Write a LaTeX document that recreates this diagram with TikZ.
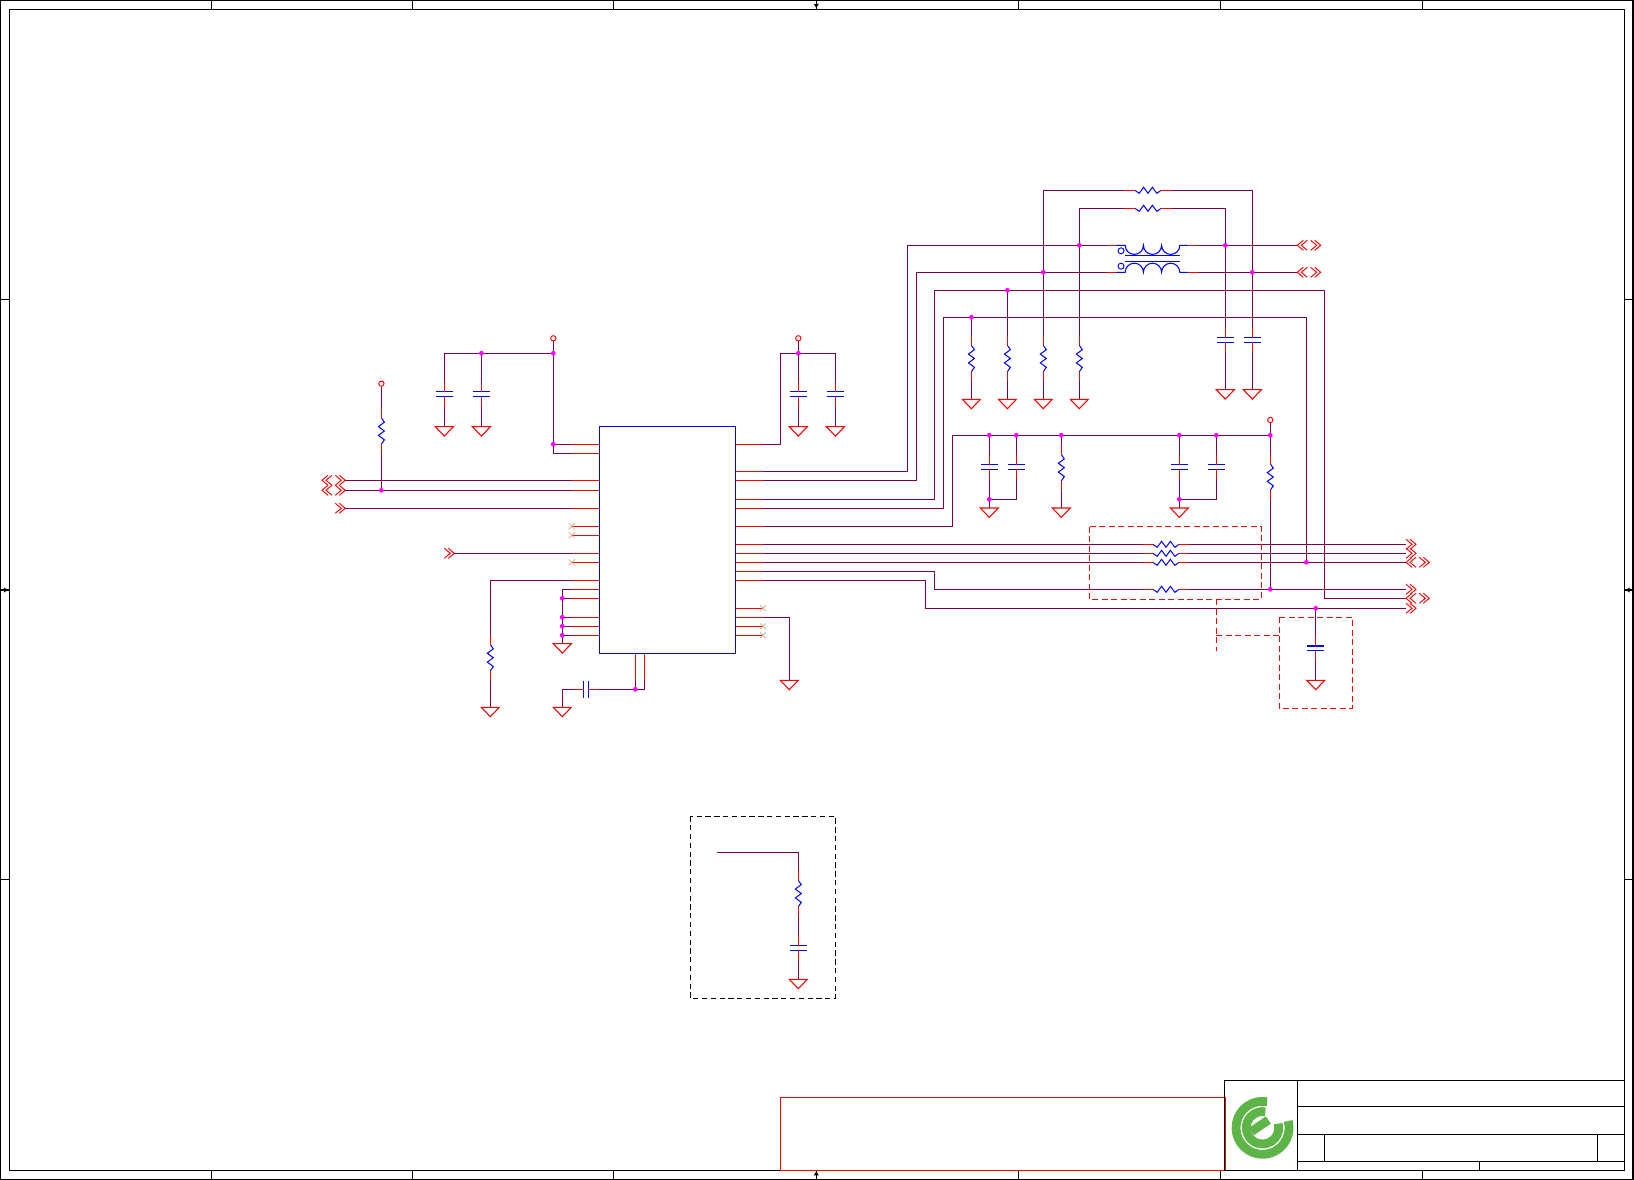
\documentclass[tikz,border=0pt]{standalone}
\definecolor{wirecol}{HTML}{7F0045}
\definecolor{nccol}{HTML}{D0B498}
\definecolor{logocol}{HTML}{5CB546}
\definecolor{dotcol}{HTML}{FF00FF}
\tikzset{
  every picture/.style={line width=0.75pt},
  wire/.style={draw=wirecol,line width=0.95pt},
  pinred/.style={draw=red,line width=0.9pt},
  partb/.style={draw=blue,line width=0.8pt},
  sheet/.style={draw=black,line width=0.9pt},
  dashred/.style={draw=red,line width=0.75pt,dash pattern=on 4.5pt off 2.6pt},
  dashblk/.style={draw=black,line width=0.75pt,dash pattern=on 4pt off 2.6pt},
  logoarc/.style={draw=logocol,line width=6.6pt},
  junct/.style={circle,fill=dotcol,inner sep=0pt,minimum size=3.6pt},
  port/.style={circle,draw=red,line width=0.7pt,inner sep=0pt,minimum size=4pt},
  % inside a pic y runs upwards again
  capac/.pic={
    \draw[partb] (-8.6,2.3) -- (8.6,2.3) (-8.6,-2.3) -- (8.6,-2.3);
    \draw[pinred] (0,12.2) -- (0,2.3) (0,-2.3) -- (0,-12.2);
    \coordinate (-a) at (0,12.2);
    \coordinate (-b) at (0,-12.2);
  },
  resis/.pic={
    \draw[partb,line width=0.75pt] (0,13.2) -- (3,8.8) -- (-3,4.4) -- (3,0) -- (-3,-4.4) -- (3,-8.8) -- (0,-13.2);
    \draw[pinred] (0,22.6) -- (0,13.2) (0,-13.2) -- (0,-22.6);
    \coordinate (-a) at (0,22.6);
    \coordinate (-b) at (0,-22.6);
  },
  earth/.pic={
    \draw[pinred,line width=0.8pt] (-9,0) -- (9,0) -- (0,-9.4) -- cycle;
    \coordinate (-t) at (0,0);
  },
  offr/.pic={
    \draw[pinred,line width=0.7pt] (0,-5) -- (6,0) -- (0,5) (4,-5) -- (10,0) -- (4,5);
    \coordinate (-w) at (0,0);
    \coordinate (-e) at (10,0);
  },
  offl/.pic={
    \draw[pinred,line width=0.7pt] (6,-5) -- (0,0) -- (6,5) (10,-5) -- (4,0) -- (10,5);
    \coordinate (-w) at (0,0);
    \coordinate (-e) at (10,0);
  },
  ncx/.pic={
    \draw[draw=nccol,line width=0.6pt] (-3,-3) -- (3,3) (-3,3) -- (3,-3);
  },
  xform/.pic={
    \draw[partb] (-36.2,13.5) -- (-27,13.5) arc[start angle=180,end angle=360,radius=9.1] arc[start angle=180,end angle=360,radius=9.1] arc[start angle=180,end angle=360,radius=9.1] -- (36.2,13.5);
    \draw[partb] (-36.2,-13.5) -- (-27,-13.5) arc[start angle=180,end angle=0,radius=9.1] arc[start angle=180,end angle=0,radius=9.1] arc[start angle=180,end angle=0,radius=9.1] -- (36.2,-13.5);
    \draw[partb] (-27,2.9) -- (27.6,2.9) (-27,-2.4) -- (27.6,-2.4);
    \draw[partb,line width=0.7pt] (-31.2,8) circle (3) (-31.2,-7.4) circle (3);
    \draw[pinred] (-45.5,13.5) -- (-36.2,13.5) (36.2,13.5) -- (45.5,13.5) (-45.5,-13.5) -- (-36.2,-13.5) (36.2,-13.5) -- (45.5,-13.5);
    \coordinate (-tl) at (-45.5,13.5);
    \coordinate (-tr) at (45.5,13.5);
    \coordinate (-bl) at (-45.5,-13.5);
    \coordinate (-br) at (45.5,-13.5);
  }
}

\begin{document}
\begin{tikzpicture}[x=0.75pt,y=0.75pt,yscale=-1,xscale=1]
\useasboundingbox (0,0) rectangle (1634,1180);

%Sheet frame
\draw[sheet] (0.6,0.6) rectangle (1633,1179.4);
\draw[sheet] (9.3,9.3) rectangle (1624.3,1170.4);
\foreach \x in {211.5,412.7,613.8,816.3,1018.5,1220.3,1422.5} {
  \draw[sheet] (\x,0.6) -- (\x,9.3) (\x,1170.4) -- (\x,1179.4);
}
\foreach \y in {299.5,590,879.5} {
  \draw[sheet] (0.6,\y) -- (9.3,\y) (1624.3,\y) -- (1633,\y);
}
\fill (813.8,4) -- (818.8,4) -- (816.3,8) -- cycle;
\fill (813.8,1175.4) -- (818.8,1175.4) -- (816.3,1171.4) -- cycle;
\fill (4,587.5) -- (4,592.5) -- (8,590) -- cycle;
\fill (1629.6,587.5) -- (1629.6,592.5) -- (1625.6,590) -- cycle;

%Revision box and title block
\draw[pinred] (780.6,1097.3) rectangle (1225.3,1170.4);
\draw[sheet] (1224.3,1080.3) rectangle (1624.3,1170.4);
\draw[sheet] (1297.3,1080.3) -- (1297.3,1170.4);
\draw[sheet] (1297.3,1106.3) -- (1624.3,1106.3);
\draw[sheet] (1297.3,1134.3) -- (1624.3,1134.3);
\draw[sheet] (1297.3,1161.4) -- (1624.3,1161.4);
\draw[sheet] (1324.3,1134.3) -- (1324.3,1161.4);
\draw[sheet] (1597.3,1134.3) -- (1597.3,1161.4);
\draw[sheet] (1479.3,1161.4) -- (1479.3,1170.4);

%Logo
\coordinate (lg) at (1262.5,1127.8);
\draw[logoarc] (lg) ++(-80:26.5) arc[start angle=-80,end angle=-375,radius=26.5];
\draw[logoarc] (lg) ++(-80:16.2) arc[start angle=-80,end angle=-375,radius=16.2];
\draw[logoarc] (1251.5,1131.5) -- (1268.3,1120);

%Chip
\node[draw=blue,line width=0.9pt,inner sep=0pt,minimum width=102pt,minimum height=170pt] (chip) at (667.5,540) {};

%Pins
\foreach \n/\y in {1/444.3,2/453.3,3/480.3,4/490.3,5/508.3,6/526.3,7/535.3,8/553.3,9/562.3,10/580.3,11/589.3,12/598.3,13/617.3,14/626.3,15/635.3} {
  \coordinate (pl\n) at (571.7,\y);
  \draw[pinred] (chip.west |- pl\n) -- (pl\n);
}
\foreach \n/\y in {1/444.3,2/471.3,3/480.3,4/499.3,5/508.3,6/526.3,7/544.3,8/553.3,9/562.3,10/571.3,11/580.3,12/608.3,13/617.3,14/626.3,15/635.3} {
  \coordinate (pr\n) at (763,\y);
  \draw[pinred] (chip.east |- pr\n) -- (pr\n);
}
\coordinate (pb1) at (635.3,680.3);
\coordinate (pb2) at (644.3,680.3);
\draw[pinred] (chip.south -| pb1) -- (pb1);
\draw[pinred] (chip.south -| pb2) -- (pb2);
\foreach \p in {pl6,pl7,pl9,pr12,pr14,pr15} {
  \pic at (\p) {ncx};
}

%Parts
\foreach \n/\x/\y in {c1/444.3/394.2,c2/481.4/394.2,c3/798.3/394.2,c4/835.4/394.2,c5/1225.3/339.8,c6/1252.3/339.8,c7/989.3/467,c8/1016.3/467,c9/1179.3/467,c10/1216.3/467,c11/1315.7/648.3,c12/798.3/947.8} {
  \pic (\n) at (\x,\y) {capac};
}
\pic[rotate=-90] (c13) at (585.8,689.3) {capac};
\foreach \n/\x/\y in {r1/381.4/431,r2/490.3/657.7,r3/971.4/358.5,r4/1007.4/358.5,r5/1043.3/358.5,r6/1079.3/358.5,r7/1061.3/467.7,r8/1270.3/477,r15/798.3/893.5} {
  \pic (\n) at (\x,\y) {resis};
}
\foreach \n/\x/\y in {r9/1148/190.3,r10/1148/208.3,r11/1166/544.3,r12/1166/553.3,r13/1166/562.3,r14/1166/589.3} {
  \pic[rotate=-90] (\n) at (\x,\y) {resis};
}
\foreach \n/\x/\y in {g1/444.3/426.7,g2/481.4/426.7,g3/798.3/426.7,g4/835.4/426.7,g5/971.4/399.3,g6/1007.4/399.3,g7/1043.3/399.3,g8/1079.3/399.3,g9/1225.3/389.7,g10/1252.3/389.7,g11/989.3/508,g12/1061.3/508,g13/1179.3/508,g14/562.3/643.7,g15/490.3/707.3,g16/562.3/707.3,g17/789.3/680.3,g18/1315.7/680.3,g19/798.3/979.3} {
  \pic (\n) at (\x,\y) {earth};
}
\pic (tx) at (1152.2,258.8) {xform};

%Off sheet connectors
\foreach \n/\x/\y in {oa/335.3/480.3,ob/335.3/490.3,oc/335.3/508.3,od/444.3/553.3,oe/1310.7/245.3,of/1310.7/272.3,og/1406/544.3,oh/1406/553.3,oi/1419.3/562.3,oj/1406/589.3,ok/1419.3/598.3,om/1406/608.3} {
  \pic (\n) at (\x,\y) {offr};
}
\foreach \n/\x/\y in {qa/322/480.3,qb/322/490.3,qc/1297.3/245.3,qd/1297.3/272.3,qe/1406/562.3,qf/1406/598.3} {
  \pic (\n) at (\x,\y) {offl};
}

%Power ports
\node[port] (vcca) at (553.3,338.3) {};
\node[port] (vccb) at (381.4,383.7) {};
\node[port] (vccc) at (798.3,338.3) {};
\node[port] (vccd) at (1270.3,420) {};

%Corners and junctions
\foreach \n/\x/\y in {ja/553.3/353.3,jb/481.4/353.3,jc/553.3/444.3,jd/381.4/490.3,
  je/562.3/598.3,jf/562.3/617.3,jg/562.3/626.3,jh/562.3/635.3,ji/635.3/689.3,
  jj/798.3/353.3,jk/1079.3/245.3,jm/1043.3/272.3,jn/1225.3/245.3,jo/1252.3/272.3,
  jp/1007.4/290.3,jq/971.4/317.3,jr/989.3/435.3,js/1016.3/435.3,jt/1061.3/435.3,
  ju/1179.3/435.3,jv/1216.3/435.3,jw/1270.3/435.3,jx/989.3/499.3,jy/1179.3/499.3,
  jz/1306.3/562.3,ka/1270.3/589.3,kb/1315.7/608.3} {
  \coordinate (\n) at (\x,\y);
}
\coordinate (ca) at (780.7,353.3);
\coordinate (cb) at (907.3,245.3);
\coordinate (cc) at (916.3,272.3);
\coordinate (cd) at (934.3,290.3);
\coordinate (ce) at (1324.3,290.3);
\coordinate (cf) at (943.3,317.3);
\coordinate (cg) at (1306.3,317.3);
\coordinate (ch) at (952.3,435.3);
\coordinate (ci) at (934.3,589.3);
\coordinate (cj) at (925.3,608.3);
\coordinate (ck) at (716.7,852.3);

%Wires left of the chip
\draw[wire] (vcca) |- (pl2);
\draw[wire] (pl1) -- (jc);
\draw[wire] (c1-a) |- (ja);
\draw[wire] (c2-a) -- (jb);
\draw[wire] (c1-b) -- (g1-t);
\draw[wire] (c2-b) -- (g2-t);
\draw[wire] (vccb) -- (r1-a);
\draw[wire] (r1-b) -- (jd);
\draw[wire] (oa-e) -- (pl3);
\draw[wire] (ob-e) -- (pl4);
\draw[wire] (oc-e) -- (pl5);
\draw[wire] (od-e) -- (pl8);
\draw[wire] (pl10) -| (r2-a);
\draw[wire] (r2-b) -- (g15-t);
\draw[wire] (pl11) -| (g14-t);
\draw[wire] (pl12) -- (je);
\draw[wire] (pl13) -- (jf);
\draw[wire] (pl14) -- (jg);
\draw[wire] (pl15) -- (jh);
\draw[wire] (pb1) -- (ji);
\draw[wire] (pb2) |- (ji);
\draw[wire] (ji) -- (c13-a);
\draw[wire] (c13-b) -| (g16-t);

%Wires right of the chip
\draw[wire] (pr1) -| (ca) -| (c4-a);
\draw[wire] (vccc) -- (c3-a);
\draw[wire] (c3-b) -- (g3-t);
\draw[wire] (c4-b) -- (g4-t);
\draw[wire] (pr2) -| (cb) -- (tx-tl);
\draw[wire] (pr3) -| (cc) -- (tx-bl);
\draw[wire] (tx-tr) -- (qc-w);
\draw[wire] (tx-br) -- (qd-w);
\draw[wire] (pr4) -| (cd) -- (ce) |- (qf-w);
\draw[wire] (pr5) -| (cf) -- (cg) -- (jz);
\draw[wire] (pr6) -| (ch) -- (jw);
\draw[wire] (pr7) -- (r11-b);
\draw[wire] (pr8) -- (r12-b);
\draw[wire] (pr9) -- (r13-b);
\draw[wire] (r11-a) -- (og-w);
\draw[wire] (r12-a) -- (oh-w);
\draw[wire] (r13-a) -- (qe-w);
\draw[wire] (pr10) -| (ci) -- (r14-b);
\draw[wire] (r14-a) -- (oj-w);
\draw[wire] (pr11) -| (cj) -- (om-w);
\draw[wire] (pr13) -| (g17-t);

%Wires round the transformer
\draw[wire] (r5-a) |- (r9-b);
\draw[wire] (r9-a) -| (c6-a);
\draw[wire] (r6-a) |- (r10-b);
\draw[wire] (r10-a) -| (c5-a);
\draw[wire] (r3-a) -- (jq);
\draw[wire] (r4-a) -- (jp);
\foreach \r/\g in {r3/g5,r4/g6,r5/g7,r6/g8,c5/g9,c6/g10} {
  \draw[wire] (\r-b) -- (\g-t);
}

%Wires of the lower bus
\draw[wire] (jr) -- (c7-a);
\draw[wire] (js) -- (c8-a);
\draw[wire] (jt) -- (r7-a);
\draw[wire] (ju) -- (c9-a);
\draw[wire] (jv) -- (c10-a);
\draw[wire] (vccd) -- (r8-a);
\draw[wire] (r8-b) -- (ka);
\draw[wire] (c7-b) -- (g11-t);
\draw[wire] (c8-b) |- (jx);
\draw[wire] (r7-b) -- (g12-t);
\draw[wire] (c9-b) -- (g13-t);
\draw[wire] (c10-b) |- (jy);
\draw[wire] (kb) -- (c11-a);
\draw[wire] (c11-b) -- (g18-t);

%Wires in the black box
\draw[wire] (ck) -| (r15-a);
\draw[wire] (r15-b) -- (c12-a);
\draw[wire] (c12-b) -- (g19-t);

%Junction dots
\foreach \n in {ja,jb,jc,jd,je,jf,jg,jh,ji,jj,jk,jm,jn,jo,jp,jq,jr,js,jt,ju,jv,jw,jx,jy,jz,ka,kb} {
  \node[junct] (dot\n) at (\n) {};
}

%Dashed boxes
\draw[dashred] (1089.3,526.7) rectangle (1261.3,599.3);
\draw[dashred] (1279.3,617.3) rectangle (1352.3,708.3);
\draw[dashred] (1216.3,599.3) -- (1216.3,650.7);
\draw[dashred] (1216.3,635.3) -- (1279.3,635.3);
\draw[dashblk] (690.3,816.3) rectangle (835.3,998.3);

\end{tikzpicture}
\end{document}
